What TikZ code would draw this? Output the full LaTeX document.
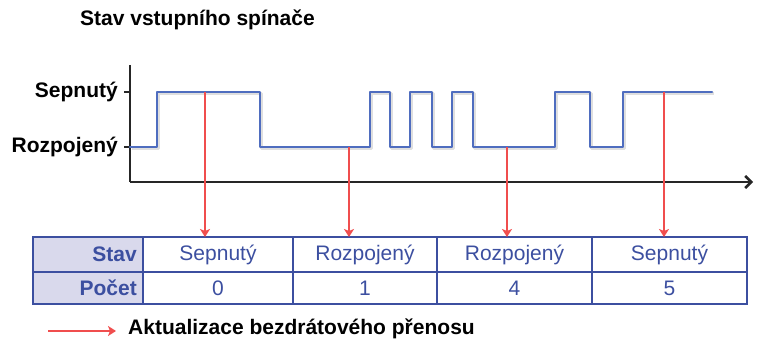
\documentclass[tikz,border=0pt]{standalone}
\usepackage{fontspec}
\setmainfont{Liberation Sans}
\usetikzlibrary{arrows.meta}
\definecolor{sigblue}{HTML}{4F6DBF}
\definecolor{updred}{HTML}{F04E4E}
\definecolor{tabblue}{HTML}{3C4FA0}
\definecolor{hdrfill}{HTML}{D9D9EC}
\tikzset{
  lbl/.style={font=\fontsize{21}{25}\selectfont\bfseries, inner sep=0pt},
  hdrtxt/.style={font=\fontsize{21}{25}\selectfont\bfseries, text=tabblue, inner sep=0pt, anchor=east},
  celltxt/.style={font=\fontsize{21}{25}\selectfont, text=tabblue, inner sep=0pt},
  signal/.style={draw=sigblue, line width=2.4pt, line join=round, line cap=round},
  sigshadow/.style={draw=black!25, line width=2.6pt, line join=round, opacity=0.5},
  axis/.style={draw=black!85, line width=2.6pt},
  upd/.style={draw=updred, line width=1.5pt, -{Stealth[length=8pt,width=10pt,inset=2pt]}},
  outer/.style={draw=tabblue, line width=2.4pt},
  inner/.style={draw=tabblue, line width=1.3pt}
}
\begin{document}
\begin{tikzpicture}[x=1pt,y=-1pt]
\useasboundingbox (0,0) rectangle (758,339);

% title
\node[lbl, anchor=west] (title) at (80,20) {Stav vstupního spínače};

% level labels and ticks
\coordinate (hi) at (130,92);
\coordinate (lo) at (130,147);
\node[lbl, anchor=east] (lsep) at (118,92) {Sepnutý};
\node[lbl, anchor=east] (lroz) at (118,147) {Rozpojený};
\draw[axis, line width=1.6pt] (124,92) -- (hi);
\draw[axis, line width=1.6pt] (124,147) -- (lo);

% axes
\coordinate (orig) at (130,182);
\coordinate (ytop) at (130,65);
\coordinate (xend) at (753,182);
\draw[axis] (ytop) -- (orig);
\draw[axis, -{Straight Barb[length=6pt,width=12pt]}] (orig) -- (xend);

% switch state signal
\def\sigpath{(130,147) -- (157,147) -- (157,92) -- (260,92) -- (260,147) -- (370,147)
  -- (370,92) -- (390,92) -- (390,147) -- (410,147) -- (410,92) -- (432,92)
  -- (432,147) -- (452,147) -- (452,92) -- (473,92) -- (473,147) -- (555,147)
  -- (555,92) -- (590,92) -- (590,147) -- (623,147) -- (623,92) -- (712,92)}
\draw[sigshadow, xshift=1.5pt, yshift=-1.5pt] \sigpath;
\draw[signal] \sigpath;

% sampling points on the signal
\coordinate (p1) at (205,92);
\coordinate (p2) at (349,147);
\coordinate (p3) at (507,147);
\coordinate (p4) at (664,92);

% table
\fill[hdrfill] (33,237) rectangle (143,304);
\draw[inner] (33,272) -- (747,272);
\foreach \x in {143,293,437,592} \draw[inner] (\x,237) -- (\x,304);
\draw[outer] (33,237) rectangle (747,304);
\coordinate (ttop) at (33,237);

\node[hdrtxt] (hstav) at (137,254.5) {Stav};
\node[hdrtxt] (hpocet) at (137,288) {Počet};

\node[celltxt] (s1) at (218,254.5) {Sepnutý};
\node[celltxt] (s2) at (365,254.5) {Rozpojený};
\node[celltxt] (s3) at (514.5,254.5) {Rozpojený};
\node[celltxt] (s4) at (669.5,254.5) {Sepnutý};
\node[celltxt] (n1) at (218,288) {0};
\node[celltxt] (n2) at (365,288) {1};
\node[celltxt] (n3) at (514.5,288) {4};
\node[celltxt] (n4) at (669.5,288) {5};

% wireless update arrows
\draw[upd] (p1) -- (p1 |- ttop);
\draw[upd] (p2) -- (p2 |- ttop);
\draw[upd] (p3) -- (p3 |- ttop);
\draw[upd] (p4) -- (p4 |- ttop);

% legend
\coordinate (la) at (48,331);
\coordinate (lb) at (116,331);
\draw[upd] (la) -- (lb);
\node[lbl, anchor=west] (legend) at (128,329) {Aktualizace bezdrátového přenosu};
\end{tikzpicture}
\end{document}
